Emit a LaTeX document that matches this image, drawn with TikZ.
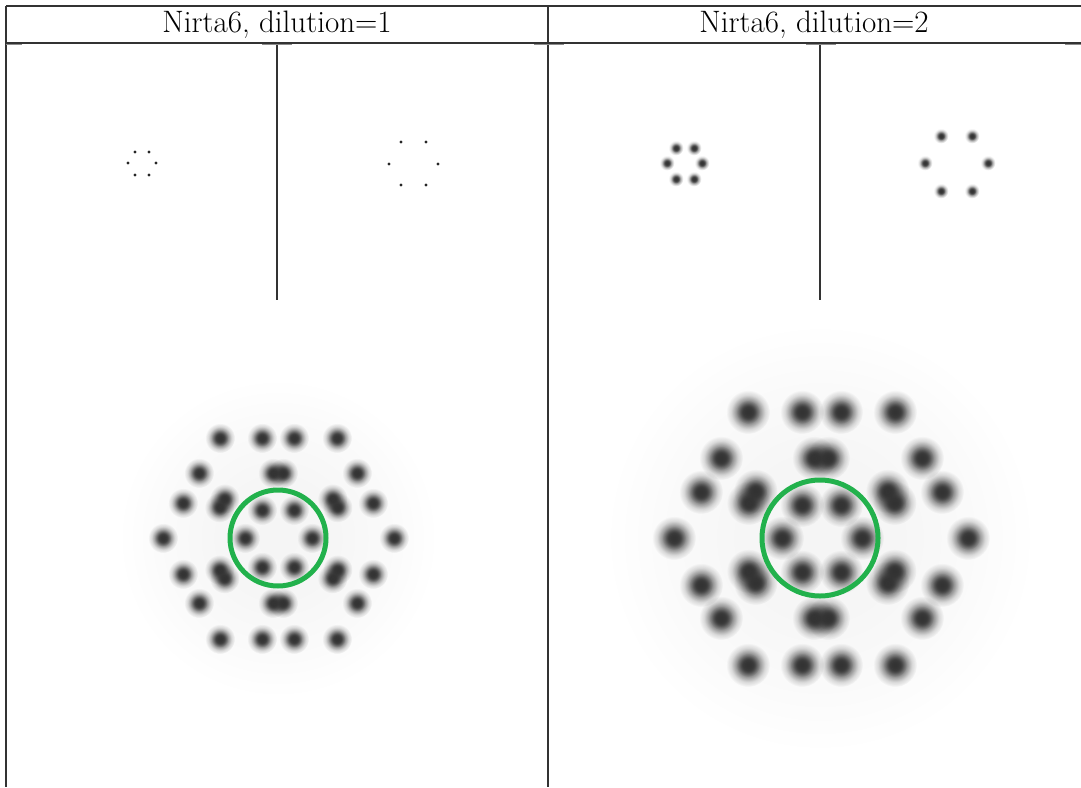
\documentclass[tikz,border=0pt]{standalone}
\usepackage{fontspec}
\usepackage{tikz}
\usepackage{xcolor}
\usetikzlibrary{fadings}

\definecolor{ringgreen}{RGB}{34,177,76}
\pgfdeclareradialshading{blurshade}{\pgfpointorigin}{%
  color(0bp)=(pgftransparent!0); color(6bp)=(pgftransparent!12);
  color(12.5bp)=(pgftransparent!45); color(19bp)=(pgftransparent!82);
  color(25bp)=(pgftransparent!100); color(50bp)=(pgftransparent!100)}
\pgfdeclarefading{blurdot}{\pgfuseshading{blurshade}}
\pgfdeclareradialshading{haloshade}{\pgfpointorigin}{%
  color(0bp)=(pgftransparent!0); color(10bp)=(pgftransparent!15);
  color(18bp)=(pgftransparent!55); color(25bp)=(pgftransparent!100);
  color(50bp)=(pgftransparent!100)}
\pgfdeclarefading{halofade}{\pgfuseshading{haloshade}}

\begin{document}
\begin{tikzpicture}[x=1pt, y=-1pt,
  rule/.style={draw=black!80, line width=1.3pt},
  edgetick/.style={draw=black!45, line width=1pt},
  blob/.style={fill=black!80, path fading=blurdot},
  halo/.style={fill=black, fill opacity=0.04, path fading=halofade},
  ring/.style={draw=ringgreen, line width=5pt}]

\useasboundingbox (0,0) rectangle (1081,787);

% headers
\node (head1) at (277,25) {\fontsize{31}{36}\selectfont Nirta6, dilution=1};
\node (head2) at (814,25) {\fontsize{31}{36}\selectfont Nirta6, dilution=2};

% table rules
\draw[rule] (6,6) -- (1081,6);
\draw[rule] (6,43) -- (1081,43);
\draw[rule] (6,6) -- (6,787);
\draw[rule] (548,6) -- (548,787);
\draw[rule] (277,43) -- (277,300);
\draw[rule] (820,43) -- (820,300);

\draw[edgetick] (6,44.5) -- (22,44.5);
\draw[edgetick] (262,44.5) -- (292,44.5);
\draw[edgetick] (534,44.5) -- (564,44.5);
\draw[edgetick] (806,44.5) -- (836,44.5);
\draw[edgetick] (1065,44.5) -- (1081,44.5);

% small pictures, dilution 1
\foreach \px/\py in {135/152,149/152,128/163,156/163,135/175,149/175,
                     401/142,426/142,389/164,438/164,401/185,426/185}
  \fill[black!85] (\px,\py) circle (1.7);

% small pictures, dilution 2
\foreach \px/\py in {676/148,694/148,667/163,702/163,676/179,694/179,
                     941/136,972/136,925/163,988/163,941/191,972/191}
{
  \fill[blob] (\px,\py) circle (7.5);
  \fill[blob] (\px,\py) circle (4.5);
}

% big picture, dilution 1
\fill[halo] (278,538) circle (160);
\foreach \px/\py in {220/438,262/438,294/438,337/438,199/473,357/473,
                     183/503,373/503,163/538,394/538,183/574,373/574,
                     199/603,357/603,220/639,262/639,294/639,337/639,
                     262/510,294/510,245/538,312/538,262/567,294/567,
                     273/473,283/473,273/603,283/603,
                     219.5/507.3,224.5/498.7,332.5/498.7,337.5/507.3,
                     219.5/569.7,224.5/578.3,332.5/578.3,337.5/569.7}
{
  \fill[blob] (\px,\py) circle (15);
  \fill[blob] (\px,\py) circle (8.5);
}
\draw[ring] (278,538) circle (48);

% big picture, dilution 2
\fill[halo] (820,538) circle (215);
\foreach \px/\py in {748/412,802/412,841/412,895/412,721/458,922/458,
                     701/492,942/492,674/538,968/538,701/585,942/585,
                     721/618,922/618,748/665,802/665,841/665,895/665,
                     802/505,841/505,782/538,862/538,802/572,841/572,
                     814/458,828/458,814/618,828/618,
                     748.5/503,755.5/491,887.5/491,894.5/503,
                     748.5/571,755.5/583,887.5/583,894.5/571}
{
  \fill[blob] (\px,\py) circle (22);
  \fill[blob] (\px,\py) circle (12);
}
\draw[ring] (820,538) circle (58);

\end{tikzpicture}
\end{document}
